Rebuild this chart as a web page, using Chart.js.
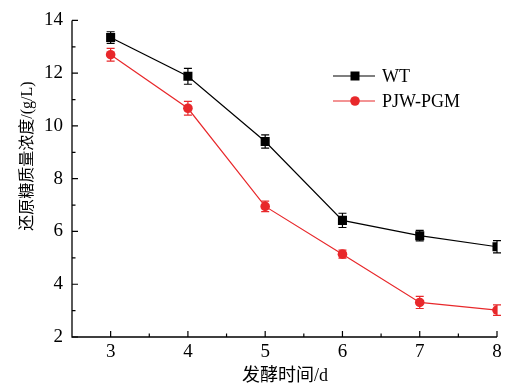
<!DOCTYPE html>
<html><head><meta charset="utf-8">
<script src="https://cdn.jsdelivr.net/npm/chart.js@4"></script>
<style>html,body{margin:0;padding:0;background:#fff}#wrap{width:506px;height:387px}</style>
</head><body><div id="wrap"><canvas id="c" width="506" height="387"></canvas></div>
<script>
const days = [3, 4, 5, 6, 7, 8];
const wtValues = [13.35, 11.88, 9.41, 6.42, 5.84, 5.42];
const wtErrors = [0.22, 0.3, 0.25, 0.27, 0.2, 0.23];
const pgmValues = [12.70, 10.67, 6.95, 5.14, 3.31, 3.02];
const pgmErrors = [0.24, 0.26, 0.2, 0.15, 0.23, 0.2];
const xTicks = [3, 4, 5, 6, 7, 8];
const yTicks = [2, 4, 6, 8, 10, 12, 14];
const seriesNames = ['WT', 'PJW-PGM'];
const xTitle = '发酵时间/d';
const yTitle = '还原糖质量浓度/(g/L)';

const RED = '#e8282b';
const FONT = "'Liberation Serif','Noto Sans CJK SC',serif";

function pts(vals){ return days.map((d,i)=>({x:d,y:vals[i]})); }

const errorBars = {
  id:'errorBars',
  afterDatasetsDraw(chart){
    const ctx = chart.ctx, xs = chart.scales.x, ys = chart.scales.y;
    chart.data.datasets.forEach(ds=>{
      ctx.save(); ctx.strokeStyle = ds.borderColor; ctx.lineWidth = 1.2;
      ds.data.forEach((p,i)=>{
        const e = ds.errors[i];
        const px = xs.getPixelForValue(p.x);
        const t = ys.getPixelForValue(p.y+e), b = ys.getPixelForValue(p.y-e);
        ctx.beginPath();
        ctx.moveTo(px,t); ctx.lineTo(px,b);
        ctx.moveTo(px-4,t); ctx.lineTo(px+4,t);
        ctx.moveTo(px-4,b); ctx.lineTo(px+4,b);
        ctx.stroke();
      });
      ctx.restore();
    });
  }
};

const axesDeco = {
  id:'axesDeco',
  afterDraw(chart){
    const ctx = chart.ctx, xs = chart.scales.x, ys = chart.scales.y, a = chart.chartArea;
    ctx.save();
    ctx.strokeStyle = '#000'; ctx.lineWidth = 1.3;
    ctx.beginPath();
    ctx.moveTo(a.left, a.top); ctx.lineTo(a.left, a.bottom); ctx.lineTo(a.right, a.bottom);
    ctx.stroke();
    ctx.lineWidth = 1.2;
    ctx.beginPath();
    yTicks.forEach((v,i)=>{
      const py = ys.getPixelForValue(v);
      ctx.moveTo(a.left, py); ctx.lineTo(a.left+6, py);
      if(i<yTicks.length-1){
        const pm = ys.getPixelForValue((v+yTicks[i+1])/2);
        ctx.moveTo(a.left, pm); ctx.lineTo(a.left+3.5, pm);
      }
    });
    const xm = [xTicks[0]-0.5].concat(xTicks.slice(0,-1).map((v,i)=>(v+xTicks[i+1])/2));
    xTicks.forEach(v=>{
      const px = xs.getPixelForValue(v);
      ctx.moveTo(px, a.bottom); ctx.lineTo(px, a.bottom-6);
    });
    xm.forEach(v=>{
      const px = xs.getPixelForValue(v);
      if(px>a.left+1){ ctx.moveTo(px, a.bottom); ctx.lineTo(px, a.bottom-3.5); }
    });
    ctx.stroke();

    // titles
    ctx.fillStyle = '#000';
    ctx.font = '18px ' + FONT;
    ctx.textAlign = 'center'; ctx.textBaseline = 'middle';
    ctx.fillText(xTitle, 285, 376);
    ctx.save();
    ctx.translate(28, 156); ctx.rotate(-Math.PI/2);
    ctx.font = '16px ' + FONT;
    ctx.fillText(yTitle, 0, 0);
    ctx.restore();

    // legend
    const ly = [76, 101];
    chart.data.datasets.forEach((ds,i)=>{
      ctx.strokeStyle = ds.borderColor; ctx.lineWidth = 1.2;
      ctx.beginPath(); ctx.moveTo(333, ly[i]); ctx.lineTo(375, ly[i]); ctx.stroke();
      ctx.fillStyle = ds.pointBackgroundColor;
      if(ds.pointStyle==='rect'){ ctx.fillRect(350.5, ly[i]-4.5, 9, 9); }
      else { ctx.beginPath(); ctx.arc(355, ly[i], 4.8, 0, Math.PI*2); ctx.fill(); }
      ctx.fillStyle = '#000'; ctx.font = '18px ' + FONT;
      ctx.textAlign = 'left'; ctx.textBaseline = 'middle';
      ctx.fillText(ds.label, 382, ly[i]+1);
    });
    ctx.restore();
  }
};

new Chart(document.getElementById('c'), {
  type:'line',
  data:{ datasets:[
    { label:seriesNames[0], data:pts(wtValues), errors:wtErrors, borderColor:'#000', backgroundColor:'#000',
      pointBackgroundColor:'#000', pointBorderColor:'#000', pointStyle:'rect', pointRadius:6.4, borderWidth:1.2, pointBorderWidth:0 },
    { label:seriesNames[1], data:pts(pgmValues), errors:pgmErrors, borderColor:RED, backgroundColor:RED,
      pointBackgroundColor:RED, pointBorderColor:RED, pointStyle:'circle', pointRadius:4.8, borderWidth:1.2, pointBorderWidth:0 }
  ]},
  options:{
    responsive:false, animation:false, devicePixelRatio:1,
    layout:{ padding:{ top:19, right:9, left:0, bottom:0 } },
    plugins:{ legend:{display:false}, tooltip:{enabled:false} },
    scales:{
      x:{ type:'linear', min:2.5, max:8,
        afterBuildTicks(s){ s.ticks = xTicks.map(v=>({value:v})); },
        afterFit(s){ s.height = 50; },
        grid:{ display:false, drawTicks:false }, border:{ display:false },
        ticks:{ color:'#000', font:{ family:FONT, size:19 }, padding:4, maxRotation:0 } },
      y:{ type:'linear', min:2, max:14,
        afterBuildTicks(s){ s.ticks = yTicks.map(v=>({value:v})); },
        afterFit(s){ s.width = 72; },
        grid:{ display:false, drawTicks:false }, border:{ display:false },
        ticks:{ color:'#000', font:{ family:FONT, size:19 }, padding:9 } }
    }
  },
  plugins:[errorBars, axesDeco]
});
</script></body></html>
